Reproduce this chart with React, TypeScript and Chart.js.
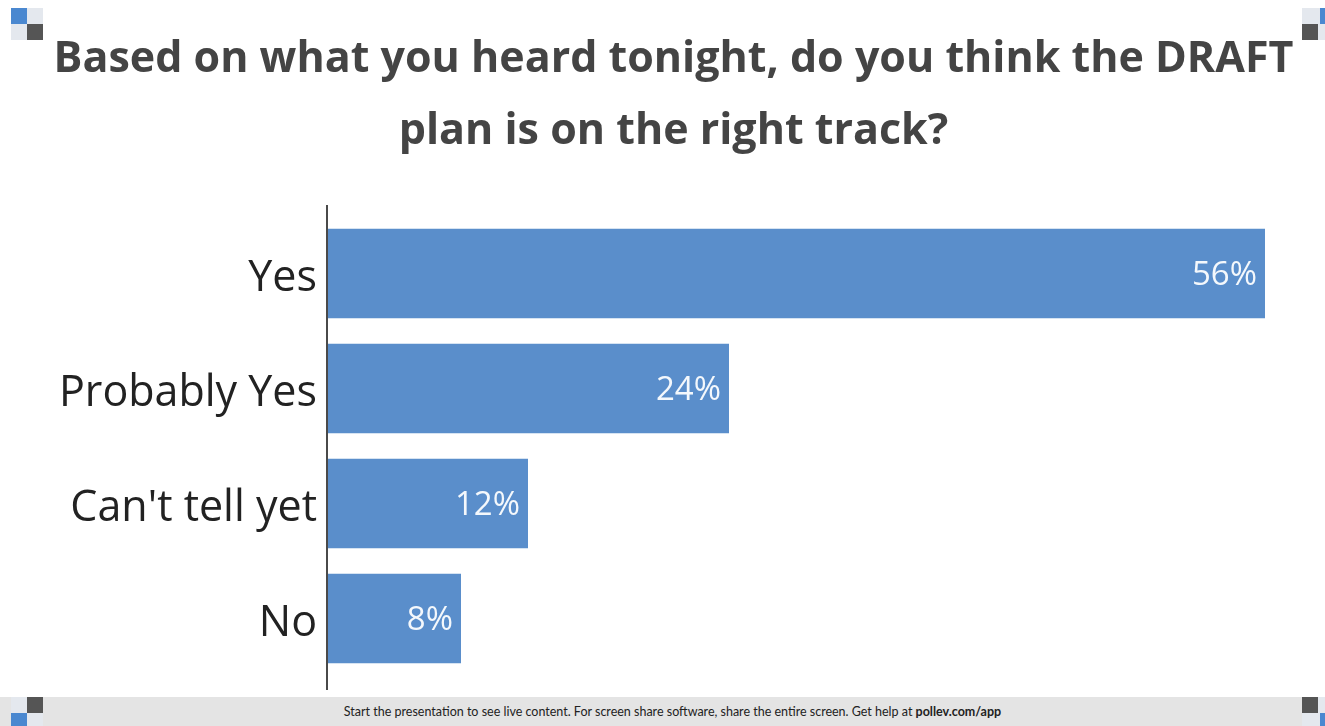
import React, { useEffect, useRef } from "react";
import { Chart, registerables } from "chart.js";

Chart.register(...registerables);

const titleLines = ["Based on what you heard tonight, do you think the DRAFT", "plan is on the right track?"];
const categories = ["Yes", "Probably Yes", "Can't tell yet", "No"];
const percentages = [56, 24, 12, 8];
const footerText = "Start the presentation to see live content. For screen share software, share the entire screen. Get help at ";
const footerLink = "pollev.com/app";

const BAR_COLOR = "#5a8ecb";

const valueLabelPlugin = {
  id: "valueLabels",
  afterDatasetsDraw(chart: any) {
    const ctx = chart.ctx;
    const meta = chart.getDatasetMeta(0);
    ctx.save();
    ctx.font = "33px 'Open Sans'";
    ctx.fillStyle = "#f4f8fc";
    ctx.textAlign = "right";
    ctx.textBaseline = "middle";
    meta.data.forEach((bar: any, i: number) => {
      const v = chart.data.datasets[0].data[i];
      ctx.fillText(v + "%", bar.x - 8, bar.y + 2);
    });
    ctx.restore();
  },
};

const axisLinePlugin = {
  id: "axisLine",
  afterDraw(chart: any) {
    const { ctx, chartArea } = chart;
    ctx.save();
    ctx.strokeStyle = "#4a4a4a";
    ctx.lineWidth = 2;
    ctx.beginPath();
    ctx.moveTo(chartArea.left, chartArea.top - 11);
    ctx.lineTo(chartArea.left, chartArea.bottom + 14);
    ctx.stroke();
    ctx.restore();
  },
};

function Corner({ style, blue, dark }: any) {
  return (
    <div style={{ position: "absolute", width: 32, height: 32, ...style }}>
      <div style={{ position: "absolute", left: 0, top: 0, width: 32, height: 32, background: "#e4e8ee" }} />
      <div style={{ position: "absolute", width: 16, height: 16, background: "#4a88d0", ...blue }} />
      <div style={{ position: "absolute", width: 16, height: 16, background: "#555555", ...dark }} />
    </div>
  );
}

export default function App() {
  const ref = useRef<HTMLCanvasElement | null>(null);

  useEffect(() => {
    if (!ref.current) return;
    const chart = new Chart(ref.current, {
      type: "bar",
      data: {
        labels: categories,
        datasets: [
          {
            data: percentages,
            backgroundColor: BAR_COLOR,
            borderWidth: 0,
            barPercentage: 0.78,
            categoryPercentage: 1.0,
          },
        ],
      },
      options: {
        indexAxis: "y",
        animation: false,
        responsive: false,
        layout: { padding: { left: 0, right: 60, top: 216, bottom: 21 } },
        plugins: {
          legend: { display: false },
          tooltip: { enabled: false },
          title: { display: false },
        },
        scales: {
          x: { display: false, min: 0, max: 56 },
          y: {
            grid: { display: false, drawTicks: false },
            border: { display: false },
            ticks: {
              color: "#222222",
              font: { family: "'Open Sans'", size: 43 },
              padding: 10,
              labelOffset: 5,
            },
            afterFit: (s: any) => {
              s.width = 327;
              s.paddingTop = 0;
              s.paddingBottom = 0;
            },
          },
        },
      },
      plugins: [valueLabelPlugin, axisLinePlugin],
    });
    return () => chart.destroy();
  }, []);

  return (
    <div style={{ position: "absolute", left: 0, top: 0, width: 1325, height: 726, background: "#ffffff", overflow: "hidden" }}>
      <canvas ref={ref} width={1325} height={697} style={{ position: "absolute", left: 0, top: 0 }} />
      <div
        style={{
          position: "absolute",
          left: 22,
          top: 20,
          width: 1303,
          textAlign: "center",
          fontFamily: "'Open Sans'",
          fontWeight: "bold",
          fontSize: 43,
          lineHeight: "72px",
          color: "#444444",
          whiteSpace: "nowrap",
        }}
      >
        {titleLines.map((t, i) => (
          <div key={i}>{t}</div>
        ))}
      </div>
      <div
        style={{
          position: "absolute",
          left: 0,
          top: 697,
          width: 1325,
          height: 29,
          background: "#e4e4e4",
          fontFamily: "Lato",
          fontSize: 12.5,
          color: "#222",
          textAlign: "center",
          lineHeight: "29px",
          paddingLeft: 20,
          boxSizing: "border-box",
        }}
      >
        {footerText}
        <b>{footerLink}</b>
      </div>
      <Corner style={{ left: 11, top: 8 }} blue={{ left: 0, top: 0 }} dark={{ left: 16, top: 16 }} />
      <Corner style={{ left: 1302, top: 8 }} blue={{ left: 18, top: 0 }} dark={{ left: 0, top: 16 }} />
      <Corner style={{ left: 11, top: 697 }} blue={{ left: 0, top: 16 }} dark={{ left: 16, top: 0 }} />
      <Corner style={{ left: 1302, top: 697 }} blue={{ left: 18, top: 16 }} dark={{ left: 0, top: 0 }} />
    </div>
  );
}
